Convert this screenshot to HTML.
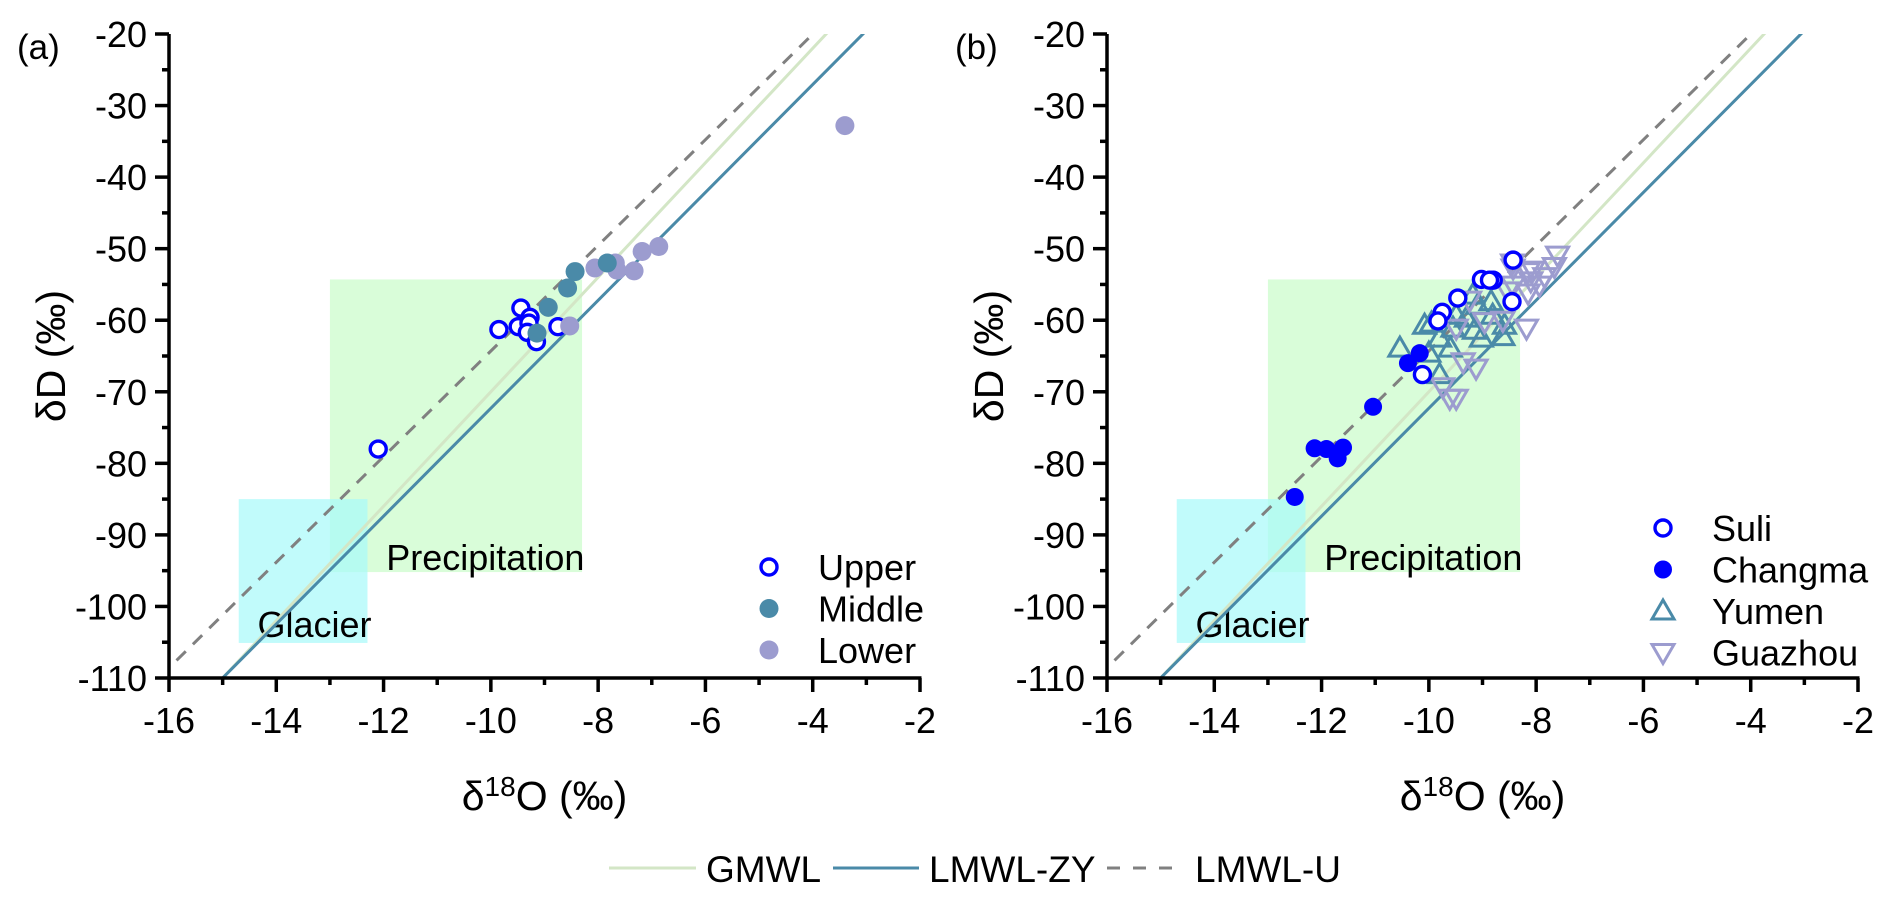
<!DOCTYPE html>
<html><head><meta charset="utf-8"><style>
html,body{margin:0;padding:0;background:#fff;}
svg{display:block;font-family:"Liberation Sans",Arial,sans-serif;}
</style></head><body>
<svg id="fig" width="1892" height="902" viewBox="0 0 1892 902" xmlns="http://www.w3.org/2000/svg"></svg>
<script>
// ---- data ----
const xTicks = [-16,-14,-12,-10,-8,-6,-4,-2];
const yTicks = [-20,-30,-40,-50,-60,-70,-80,-90,-100,-110];
const upperX = [-12.1,-9.85,-9.44,-9.49,-9.27,-9.29,-9.32,-9.15,-8.75];
const upperY = [-78,-61.3,-58.3,-60.9,-59.6,-60.4,-61.7,-63.0,-60.9];
const middleX = [-8.43,-8.57,-8.93,-9.14,-7.83];
const middleY = [-53.2,-55.5,-58.2,-61.8,-52.0];
const lowerX = [-8.06,-7.68,-7.65,-7.33,-7.18,-6.87,-8.53,-3.4];
const lowerY = [-52.7,-52.0,-53.0,-53.1,-50.4,-49.7,-60.8,-32.8];
const suliX = [-8.43,-9.02,-8.80,-9.46,-8.45,-9.75,-9.83,-10.12,-8.87];
const suliY = [-51.6,-54.3,-54.4,-56.9,-57.4,-58.9,-60.1,-67.6,-54.4];
const changmaX = [-10.39,-10.17,-11.04,-12.13,-11.91,-11.6,-11.7,-12.5];
const changmaY = [-66.0,-64.6,-72.1,-77.9,-78.0,-77.8,-79.3,-84.7];
const yumenX = [-10.54,-10.08,-9.95,-9.80,-9.60,-10.0,-9.80,-9.49,-9.18,-9.09,-9.30,-9.15,-9.02,-8.84,-8.62,-8.59,-9.55,-8.81];
const yumenY = [-63.9,-60.7,-60.4,-62.5,-63.9,-64.6,-67.6,-59.3,-56.5,-57.9,-59.7,-61.4,-62.5,-57.4,-62.3,-60.7,-61.1,-59.3];
const guazhouX = [-9.24,-8.96,-9.49,-9.36,-9.12,-9.74,-9.61,-9.49,-8.18,-8.43,-8.43,-8.15,-8.10,-8.62,-7.60,-7.66,-8.06,-7.84,-7.94,-8.15,-8.44,-8.53];
const guazhouY = [-57.2,-60.2,-61.1,-65.8,-66.7,-69.3,-70.9,-70.9,-61.1,-52.7,-55.1,-53.2,-54.5,-60.0,-50.9,-52.5,-53.0,-53.9,-55.1,-56.2,-52.0,-55.9];
const gmwlSlope = 8, gmwlInt = 10;
const zySlope = 7.54, zyInt = 3.1;
const uSlope = 7.38, uInt = 9.5;

const NS = "http://www.w3.org/2000/svg";
const svg = document.getElementById('fig');
function mk(tag, attrs, parent){const e=document.createElementNS(NS,tag);for(const k in attrs)e.setAttribute(k,attrs[k]);(parent||svg).appendChild(e);return e;}

function panel(x0, label, id){
  const X0=x0, X1=x0+751, Ytop=34, Ybot=678;
  const sx = v => X0 + (v+16)/14*(X1-X0);
  const sy = v => Ytop + (-20 - v)/90*(Ybot-Ytop);
  const g = mk('g',{});
  
  
  const cp = mk('clipPath',{id:'clip'+id},g);
  mk('rect',{x:X0,y:Ytop,width:X1-X0,height:Ybot-Ytop},cp);
  const pr = mk('rect',{x:sx(-13),y:sy(-54.3),width:sx(-8.3)-sx(-13),height:sy(-95.2)-sy(-54.3),fill:'#d9fdd9'},g);
  
  
  const gr = mk('rect',{x:sx(-14.7),y:sy(-85),width:sx(-12.3)-sx(-14.7),height:sy(-105.1)-sy(-85),fill:'#a6fafa','fill-opacity':0.7},g);
  
  
  const t1 = mk('text',{x:sx(-11.95),y:sy(-93.2)+12,'font-size':36,fill:'#000'},g); t1.textContent='Precipitation';
  
  
  const t2 = mk('text',{x:sx(-14.35),y:sy(-102.6)+12,'font-size':36,fill:'#000'},g); t2.textContent='Glacier';
  
  
  const lg = mk('g',{'clip-path':'url(#clip'+id+')'},g);
  function ln(slope,inter,xa,xb,attrs,name){
    const l=mk('line',Object.assign({x1:sx(xa),y1:sy(slope*xa+inter),x2:sx(xb),y2:sy(slope*xb+inter)},attrs),lg);
    
    
  }
  ln(gmwlSlope,gmwlInt,-16,-2,{stroke:'#d3e6c6','stroke-width':3},'gmwl-line');
  ln(zySlope,zyInt,-16,-2,{stroke:'#4a8aa8','stroke-width':3},'lmwl-zy-line');
  ln(uSlope,uInt,-15.86,-2,{stroke:'#808080','stroke-width':3,'stroke-dasharray':'13 10'},'lmwl-u-line');
  const ax = mk('g',{stroke:'#000','stroke-width':3.5,fill:'none'},g);
  
  
  mk('line',{x1:X0,y1:Ytop,x2:X0,y2:Ybot+1.5},ax);
  mk('line',{x1:X0-1.5,y1:Ybot,x2:X1+1.5,y2:Ybot},ax);
  yTicks.forEach(v=>{
    mk('line',{x1:X0-14,y1:sy(v),x2:X0,y2:sy(v)},ax);
    const t=mk('text',{x:X0-22,y:sy(v)+13,'font-size':36,'text-anchor':'end',fill:'#000'},g); t.textContent=v;
    
    
    if(v>-110) mk('line',{x1:X0-7,y1:sy(v-5),x2:X0,y2:sy(v-5)},ax);
  });
  xTicks.forEach(v=>{
    mk('line',{x1:sx(v),y1:Ybot,x2:sx(v),y2:Ybot+14},ax);
    const t=mk('text',{x:sx(v),y:Ybot+55,'font-size':36,'text-anchor':'middle',fill:'#000'},g); t.textContent=v;
    
    
    if(v<-2) mk('line',{x1:sx(v+1),y1:Ybot,x2:sx(v+1),y2:Ybot+7},ax);
  });
  const yt=mk('text',{x:0,y:0,'font-size':41,'text-anchor':'middle',fill:'#000',transform:`translate(${X0-104},${(Ytop+Ybot)/2}) rotate(-90)`},g);
  yt.textContent='δD (‰)';
  
  
  const xt=mk('text',{x:(X0+X1)/2,y:810,'font-size':41,'text-anchor':'middle',fill:'#000'},g);
  xt.innerHTML='δ<tspan dy="-14" font-size="28">18</tspan><tspan dy="14">O (‰)</tspan>';
  
  
  const pl=mk('text',{x:X0-152,y:59,'font-size':35,fill:'#000'},g); pl.textContent=label;
  
  
  return {g,sx,sy,X1};
}
function marker(g,kind,x,y,name){
  let e;
  if(kind==='open') e=mk('circle',{cx:x,cy:y,r:8,fill:'#fff',stroke:'#0000ff','stroke-width':3.4},g);
  else if(kind==='mid') e=mk('circle',{cx:x,cy:y,r:9.5,fill:'#4a8aa8'},g);
  else if(kind==='low') e=mk('circle',{cx:x,cy:y,r:9.5,fill:'#9c9ccf'},g);
  else if(kind==='fill') e=mk('circle',{cx:x,cy:y,r:9,fill:'#0000ff'},g);
  else if(kind==='up') e=mk('polygon',{points:`${x},${y-11} ${x+11},${y+8} ${x-11},${y+8}`,fill:'none',stroke:'#4a8aa8','stroke-width':3},g);
  else e=mk('polygon',{points:`${x},${y+11} ${x+11},${y-8} ${x-11},${y-8}`,fill:'none',stroke:'#9c9ccf','stroke-width':3},g);
  
  
}
function series(P,xs,ys,kind,name){
  const sg=mk('g',{},P.g);
  
  
  xs.forEach((v,i)=>marker(sg,kind,P.sx(v),P.sy(ys[i]),name+'-point'));
}
function legend(P,items,y0,mx){
  items.forEach((it,i)=>{
    const y=y0+i*41.5;
    marker(P.g,it[0],mx,y,'legend-marker');
    const t=mk('text',{x:mx+49,y:y+13,'font-size':36,fill:'#000'},P.g); t.textContent=it[1];
    
    
  });
}
const A = panel(169,'(a)','a');
series(A,upperX,upperY,'open','upper');
series(A,lowerX,lowerY,'low','lower');
series(A,middleX,middleY,'mid','middle');
legend(A,[['open','Upper'],['mid','Middle'],['low','Lower']],567,769);

const B = panel(1107,'(b)','b');
series(B,yumenX,yumenY,'up','yumen');
series(B,guazhouX,guazhouY,'down','guazhou');
series(B,suliX,suliY,'open','suli');
series(B,changmaX,changmaY,'fill','changma');
legend(B,[['open','Suli'],['fill','Changma'],['up','Yumen'],['down','Guazhou']],528,1663);

const bl = mk('g',{});


function bitem(x1,x2,tx,attrs,txt,name){
  const l=mk('line',Object.assign({x1:x1,y1:868,x2:x2,y2:868,'stroke-width':3},attrs),bl);
  
  
  const t=mk('text',{x:tx,y:882,'font-size':37,fill:'#000'},bl); t.textContent=txt;
  
  
}
bitem(609,696,706,{stroke:'#d3e6c6'},'GMWL','gmwl');
bitem(833,919,929,{stroke:'#4a8aa8'},'LMWL-ZY','lmwl-zy');
bitem(1107,1185,1195,{stroke:'#808080','stroke-dasharray':'13 13'},'LMWL-U','lmwl-u');
</script>
</body></html>
